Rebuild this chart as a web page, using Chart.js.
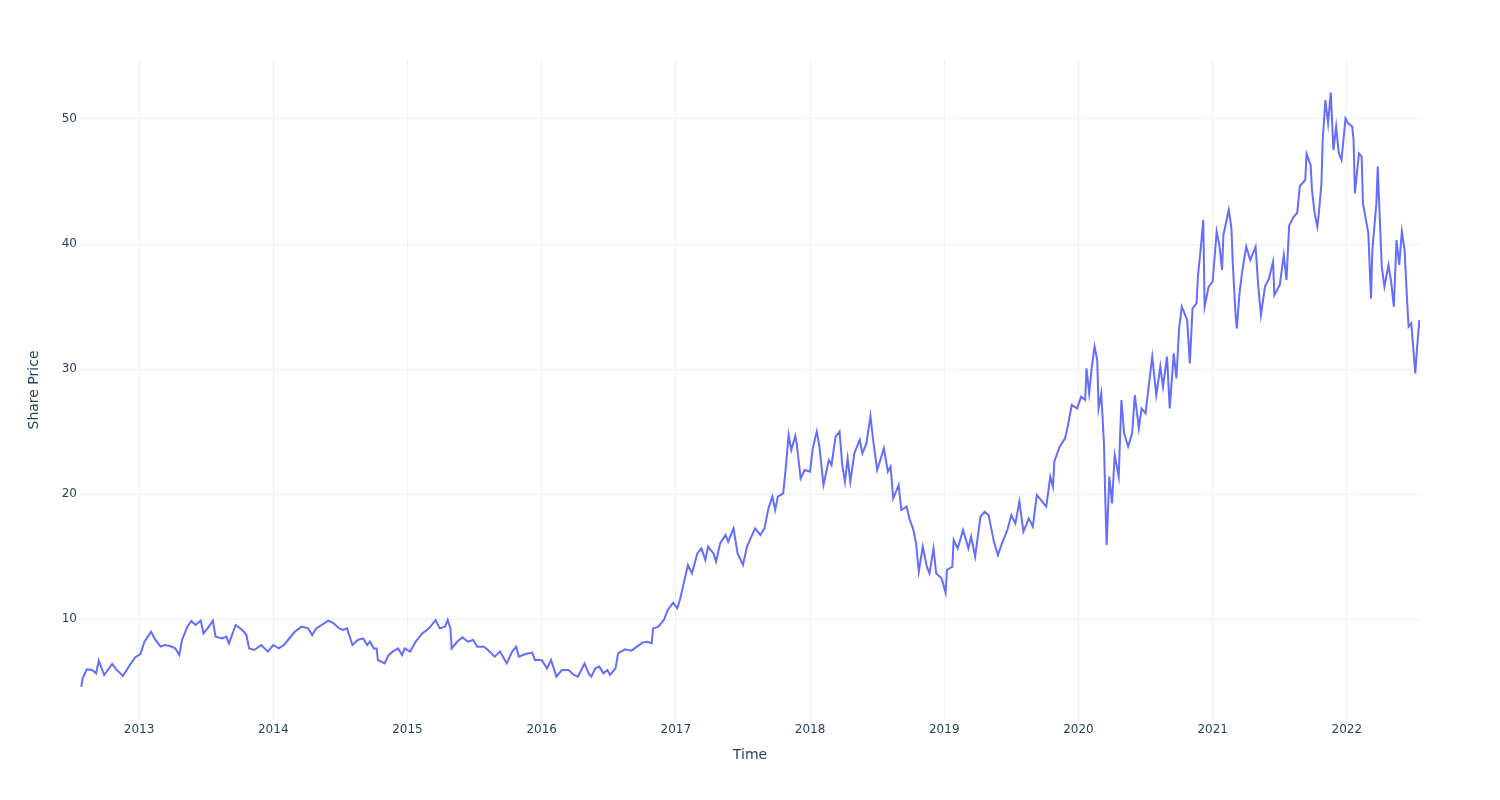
<!DOCTYPE html>
<html>
<head>
<meta charset="utf-8">
<script src="https://cdn.jsdelivr.net/npm/chart.js@4.4.1/dist/chart.umd.min.js"></script>
<style>
  html, body { margin: 0; padding: 0; background: #fff; }
</style>
</head>
<body>
<canvas id="priceChart" width="1500" height="800"></canvas>
<script>
// time as decimal years
var years = [
  2012.57, 2012.58, 2012.61, 2012.65, 2012.68, 2012.70, 2012.74, 2012.80, 2012.83, 2012.88, 2012.92, 2012.97,
  2013.01, 2013.04, 2013.09, 2013.12, 2013.16, 2013.19, 2013.23, 2013.27, 2013.30, 2013.32, 2013.36, 2013.39,
  2013.42, 2013.46, 2013.48, 2013.52, 2013.55, 2013.57, 2013.62, 2013.65, 2013.67, 2013.72, 2013.77, 2013.80,
  2013.82, 2013.86, 2013.91, 2013.96, 2014.00, 2014.04, 2014.08, 2014.11, 2014.16, 2014.21, 2014.26, 2014.29,
  2014.32, 2014.36, 2014.41, 2014.45, 2014.49, 2014.52, 2014.55, 2014.59, 2014.63, 2014.67, 2014.70, 2014.72,
  2014.75, 2014.77, 2014.78, 2014.83, 2014.86, 2014.89, 2014.93, 2014.96, 2014.98, 2015.02, 2015.06, 2015.11,
  2015.16, 2015.21, 2015.24, 2015.28, 2015.30, 2015.32, 2015.33, 2015.37, 2015.41, 2015.45, 2015.49, 2015.52,
  2015.57, 2015.60, 2015.65, 2015.69, 2015.74, 2015.78, 2015.81, 2015.83, 2015.88, 2015.93, 2015.95, 2016.00,
  2016.04, 2016.07, 2016.11, 2016.15, 2016.20, 2016.24, 2016.27, 2016.32, 2016.35, 2016.37, 2016.40, 2016.43,
  2016.46, 2016.49, 2016.51, 2016.55, 2016.57, 2016.62, 2016.67, 2016.71, 2016.75, 2016.79, 2016.82, 2016.83,
  2016.87, 2016.91, 2016.94, 2016.98, 2017.01, 2017.03, 2017.07, 2017.09, 2017.12, 2017.16, 2017.19, 2017.22,
  2017.24, 2017.28, 2017.30, 2017.33, 2017.37, 2017.39, 2017.43, 2017.46, 2017.50, 2017.53, 2017.59, 2017.63,
  2017.66, 2017.69, 2017.72, 2017.74, 2017.76, 2017.80, 2017.82, 2017.84, 2017.86, 2017.89, 2017.90, 2017.93,
  2017.96, 2018.00, 2018.02, 2018.05, 2018.07, 2018.10, 2018.14, 2018.16, 2018.19, 2018.22, 2018.24, 2018.26,
  2018.28, 2018.30, 2018.33, 2018.37, 2018.39, 2018.42, 2018.45, 2018.47, 2018.50, 2018.52, 2018.55, 2018.58,
  2018.60, 2018.62, 2018.66, 2018.68, 2018.72, 2018.74, 2018.77, 2018.79, 2018.81, 2018.84, 2018.87, 2018.89,
  2018.92, 2018.94, 2018.98, 2019.01, 2019.02, 2019.06, 2019.07, 2019.10, 2019.14, 2019.18, 2019.20, 2019.23,
  2019.27, 2019.30, 2019.33, 2019.37, 2019.40, 2019.43, 2019.47, 2019.50, 2019.53, 2019.56, 2019.59, 2019.63,
  2019.66, 2019.69, 2019.73, 2019.76, 2019.79, 2019.81, 2019.82, 2019.86, 2019.90, 2019.92, 2019.95, 2019.99,
  2020.02, 2020.05, 2020.06, 2020.08, 2020.10, 2020.12, 2020.14, 2020.15, 2020.17, 2020.19, 2020.20, 2020.21,
  2020.23, 2020.25, 2020.27, 2020.30, 2020.32, 2020.34, 2020.37, 2020.40, 2020.42, 2020.45, 2020.47, 2020.50,
  2020.52, 2020.55, 2020.58, 2020.61, 2020.63, 2020.66, 2020.68, 2020.71, 2020.73, 2020.75, 2020.77, 2020.81,
  2020.83, 2020.85, 2020.88, 2020.89, 2020.91, 2020.93, 2020.94, 2020.97, 2021.00, 2021.03, 2021.05, 2021.07,
  2021.08, 2021.12, 2021.14, 2021.15, 2021.17, 2021.18, 2021.20, 2021.22, 2021.25, 2021.28, 2021.32, 2021.34,
  2021.36, 2021.39, 2021.42, 2021.45, 2021.46, 2021.50, 2021.53, 2021.55, 2021.57, 2021.60, 2021.63, 2021.65,
  2021.69, 2021.70, 2021.73, 2021.74, 2021.76, 2021.78, 2021.79, 2021.81, 2021.82, 2021.84, 2021.86, 2021.88,
  2021.90, 2021.92, 2021.94, 2021.96, 2021.99, 2022.01, 2022.04, 2022.05, 2022.06, 2022.07, 2022.09, 2022.11,
  2022.12, 2022.16, 2022.18, 2022.19, 2022.22, 2022.23, 2022.26, 2022.28, 2022.31, 2022.33, 2022.35, 2022.37,
  2022.39, 2022.41, 2022.43, 2022.45, 2022.46, 2022.48, 2022.51, 2022.52, 2022.54
];

var prices = [
  4.58, 5.25, 5.97, 5.92, 5.65, 6.67, 5.52, 6.40, 5.97, 5.44, 6.13, 6.93,
  7.20, 8.18, 8.98, 8.37, 7.79, 7.92, 7.84, 7.65, 7.12, 8.32, 9.39, 9.84,
  9.52, 9.87, 8.85, 9.39, 9.87, 8.59, 8.45, 8.59, 8.05, 9.52, 9.12, 8.72,
  7.65, 7.52, 7.92, 7.39, 7.92, 7.65, 7.92, 8.32, 8.98, 9.39, 9.25, 8.72,
  9.25, 9.52, 9.87, 9.65, 9.25, 9.12, 9.25, 7.92, 8.32, 8.45, 7.92, 8.20,
  7.65, 7.65, 6.72, 6.45, 7.12, 7.39, 7.65, 7.12, 7.65, 7.39, 8.18, 8.85,
  9.25, 9.92, 9.25, 9.39, 9.92, 9.25, 7.65, 8.18, 8.53, 8.18, 8.32, 7.79,
  7.79, 7.52, 6.99, 7.39, 6.45, 7.39, 7.79, 6.99, 7.20, 7.31, 6.72, 6.72,
  6.05, 6.72, 5.39, 5.92, 5.92, 5.52, 5.39, 6.45, 5.65, 5.39, 6.05, 6.19,
  5.65, 5.92, 5.52, 6.05, 7.25, 7.57, 7.47, 7.79, 8.11, 8.18, 8.05, 9.25,
  9.39, 9.92, 10.72, 11.31, 10.85, 11.52, 13.39, 14.32, 13.65, 15.25, 15.65, 14.72,
  15.79, 15.25, 14.59, 16.05, 16.72, 16.19, 17.25, 15.25, 14.32, 15.79, 17.25, 16.72,
  17.25, 18.85, 19.79, 18.72, 19.79, 20.05, 22.19, 24.72, 23.52, 24.64, 24.05, 21.25,
  21.92, 21.79, 23.65, 24.99, 23.79, 20.72, 22.72, 22.32, 24.59, 24.99, 22.32, 20.99,
  22.85, 20.99, 23.25, 24.32, 23.25, 24.05, 26.24, 24.32, 21.92, 22.59, 23.65, 21.79,
  22.19, 19.65, 20.72, 18.72, 18.99, 18.05, 17.12, 16.05, 13.79, 15.79, 14.19, 13.65,
  15.65, 13.65, 13.25, 12.11, 13.92, 14.19, 16.32, 15.65, 17.12, 15.65, 16.59, 14.99,
  18.19, 18.59, 18.32, 16.19, 15.12, 16.05, 17.12, 18.32, 17.65, 19.39, 16.99, 18.05,
  17.39, 19.92, 19.39, 18.99, 21.39, 20.59, 22.59, 23.79, 24.45, 25.39, 27.12, 26.85,
  27.79, 27.52, 30.05, 28.05, 30.19, 31.79, 30.72, 26.85, 28.05, 24.05, 19.52, 15.92,
  21.39, 19.25, 23.12, 21.39, 27.52, 24.85, 23.79, 24.85, 27.92, 25.25, 26.85, 26.45,
  28.32, 30.99, 27.92, 30.19, 28.59, 30.99, 26.85, 31.25, 29.25, 33.25, 34.99, 33.92,
  30.45, 34.85, 35.25, 37.39, 39.52, 41.92, 34.99, 36.59, 36.99, 40.99, 39.92, 37.92,
  40.72, 42.72, 41.25, 38.45, 34.45, 33.25, 36.05, 37.79, 39.79, 38.72, 39.79, 36.59,
  34.32, 36.59, 37.25, 38.59, 35.92, 36.72, 39.12, 37.12, 41.45, 42.12, 42.50, 44.64,
  45.12, 47.20, 46.32, 44.32, 42.45, 41.39, 42.32, 44.72, 48.32, 51.52, 49.65, 52.11,
  47.52, 49.39, 47.25, 46.72, 50.05, 49.65, 49.39, 48.32, 44.05, 45.12, 47.25, 46.99,
  43.25, 40.85, 35.65, 39.52, 43.25, 46.20, 38.19, 36.59, 38.32, 36.99, 34.99, 40.32,
  38.32, 40.99, 39.52, 35.25, 33.39, 33.65, 29.65, 31.25, 33.92
];

var yTicks = [10, 20, 30, 40, 50];
var yearTicks = [2013, 2014, 2015, 2016, 2017, 2018, 2019, 2020, 2021, 2022];

var points = years.map(function (t, i) {
  return { x: t, y: prices[i] };
});

var textColor = '#2a3f5f';
var gridColor = '#ebf0f8';
var fontFamily = '"DejaVu Sans", Verdana, sans-serif';

var priceChart = new Chart(document.getElementById('priceChart'), {
  type: 'line',
  data: {
    datasets: [{
      data: points,
      borderColor: '#636efa',
      borderWidth: 2,
      pointRadius: 0,
      tension: 0,
      fill: false
    }]
  },
  options: {
    responsive: false,
    animation: false,
    devicePixelRatio: 1,
    layout: {
      padding: { left: 0, top: 60, right: 80, bottom: 0 }
    },
    plugins: {
      legend: { display: false },
      tooltip: { enabled: false }
    },
    scales: {
      x: {
        type: 'linear',
        min: 2012.56,
        max: 2022.545,
        afterFit: function (scale) { scale.height = 80; },
        afterBuildTicks: function (scale) {
          scale.ticks = yearTicks.map(function (v) { return { value: v }; });
        },
        border: { display: false },
        grid: { color: gridColor, lineWidth: 1, drawTicks: false },
        ticks: {
          color: textColor,
          font: { family: fontFamily, size: 12 },
          padding: 3,
          maxRotation: 0,
          autoSkip: false,
          callback: function (v) { return String(Math.round(v)); }
        },
        title: {
          display: true,
          text: 'Time',
          color: textColor,
          font: { family: fontFamily, size: 14 },
          padding: { top: 0, bottom: 36 }
        }
      },
      y: {
        type: 'linear',
        min: 1.92,
        max: 54.72,
        afterFit: function (scale) { scale.width = 80; },
        afterBuildTicks: function (scale) {
          scale.ticks = yTicks.map(function (v) { return { value: v }; });
        },
        border: { display: false },
        grid: { color: gridColor, lineWidth: 1, drawTicks: false },
        ticks: {
          color: textColor,
          font: { family: fontFamily, size: 12 },
          padding: 3,
          callback: function (v) { return String(v); }
        },
        title: {
          display: true,
          text: 'Share Price',
          color: textColor,
          font: { family: fontFamily, size: 14 },
          padding: { top: 26, bottom: 0 }
        }
      }
    }
  }
});
</script>
</body>
</html>
